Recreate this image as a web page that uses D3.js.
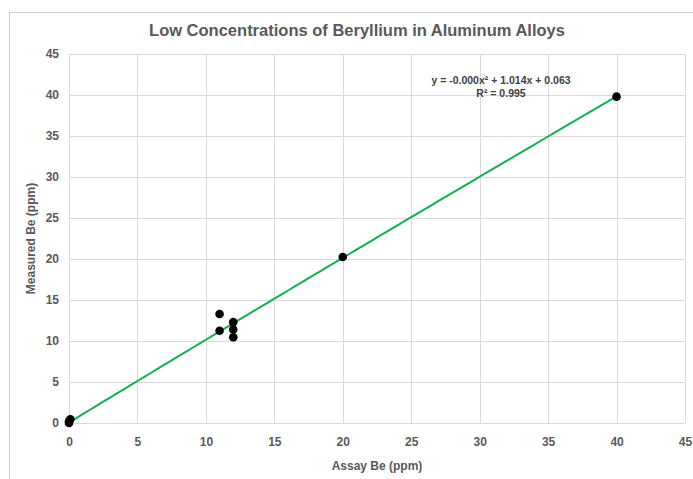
<!DOCTYPE html>
<html>
<head>
<meta charset="utf-8">
<script src="https://cdn.jsdelivr.net/npm/d3@7"></script>
<style>
  body { margin: 0; background: #fff; }
  svg { font-family: "Liberation Sans", Arial, sans-serif; }
</style>
</head>
<body>
<div id="chart"></div>
<script>
// measured vs assay beryllium (ppm)
const assay    = [0, 0, 0.1, 11, 11, 12, 12, 12, 20, 40];
const measured = [0, 0.2, 0.45, 13.3, 11.25, 12.3, 11.4, 10.45, 20.25, 39.8];
const xTicks = [0, 5, 10, 15, 20, 25, 30, 35, 40, 45];
const yTicks = [0, 5, 10, 15, 20, 25, 30, 35, 40, 45];
// poly trend coefficients (a x^2 + b x + c)
const trendCoef = [-0.0005, 1.014, 0.063];
const trendRange = [0, 40];

const width = 693, height = 479;
const margin = {top: 54, right: 8, bottom: 56, left: 69};

const svg = d3.select("#chart").append("svg")
  .attr("width", width)
  .attr("height", height);

// chart frame
svg.append("rect")
  .attr("x", 9.5).attr("y", 12.5)
  .attr("width", 700).attr("height", 500)
  .attr("fill", "none")
  .attr("stroke", "#d0d0d0");

const x = d3.scaleLinear().domain([0, 45]).range([margin.left, width - margin.right]);
const y = d3.scaleLinear().domain([0, 45]).range([height - margin.bottom, margin.top]);

// gridlines
const grid = svg.append("g").attr("stroke", "#d9d9d9").attr("stroke-width", 1);
grid.selectAll("line.v").data(xTicks).join("line")
  .attr("class", "v")
  .attr("x1", d => Math.round(x(d)) + 0.5).attr("x2", d => Math.round(x(d)) + 0.5)
  .attr("y1", y(0)).attr("y2", y(45));
grid.selectAll("line.h").data(yTicks).join("line")
  .attr("class", "h")
  .attr("y1", d => Math.round(y(d)) + 0.5).attr("y2", d => Math.round(y(d)) + 0.5)
  .attr("x1", x(0)).attr("x2", x(45));

// axes (labels only)
const xAxis = svg.append("g")
  .attr("transform", `translate(0,${y(0)})`)
  .call(d3.axisBottom(x).tickValues(xTicks).tickSize(0).tickPadding(14));
const yAxis = svg.append("g")
  .attr("transform", `translate(${x(0)},0)`)
  .call(d3.axisLeft(y).tickValues(yTicks).tickSize(0).tickPadding(10));
[xAxis, yAxis].forEach(g => {
  g.select(".domain").remove();
  g.selectAll("text")
    .attr("fill", "#595959")
    .style("font-size", "12px")
    .style("font-weight", "bold")
    .style("font-family", "'Liberation Sans', Arial, sans-serif");
});

// trendline
const trend = d3.range(trendRange[0], trendRange[1] + 0.001, 0.5)
  .map(v => [v, trendCoef[0] * v * v + trendCoef[1] * v + trendCoef[2]]);
svg.append("path")
  .datum(trend)
  .attr("fill", "none")
  .attr("stroke", "#14b050")
  .attr("stroke-width", 2)
  .attr("d", d3.line().x(d => x(d[0])).y(d => y(d[1])));

// points
svg.append("g").selectAll("circle")
  .data(assay.map((a, i) => [a, measured[i]]))
  .join("circle")
  .attr("cx", d => x(d[0]))
  .attr("cy", d => y(d[1]))
  .attr("r", 4.3)
  .attr("fill", "#000");

// title
svg.append("text")
  .attr("x", 357).attr("y", 36)
  .attr("text-anchor", "middle")
  .attr("fill", "#595959")
  .style("font-size", "16.5px")
  .style("font-weight", "bold")
  .text("Low Concentrations of Beryllium in Aluminum Alloys");

// axis titles
svg.append("text")
  .attr("x", (x(0) + x(45)) / 2).attr("y", 470)
  .attr("text-anchor", "middle")
  .attr("fill", "#595959")
  .style("font-size", "12px")
  .style("font-weight", "bold")
  .text("Assay Be (ppm)");
svg.append("text")
  .attr("transform", `translate(35,${(y(0) + y(45)) / 2}) rotate(-90)`)
  .attr("text-anchor", "middle")
  .attr("fill", "#595959")
  .style("font-size", "12px")
  .style("font-weight", "bold")
  .text("Measured Be (ppm)");

// equation label
const eq = svg.append("text")
  .attr("text-anchor", "middle")
  .attr("fill", "#404040")
  .style("font-size", "10.5px")
  .style("font-weight", "bold");
eq.append("tspan").attr("x", 501).attr("y", 84).text("y = -0.000x² + 1.014x + 0.063");
eq.append("tspan").attr("x", 501).attr("y", 97).text("R² = 0.995");
</script>
</body>
</html>
